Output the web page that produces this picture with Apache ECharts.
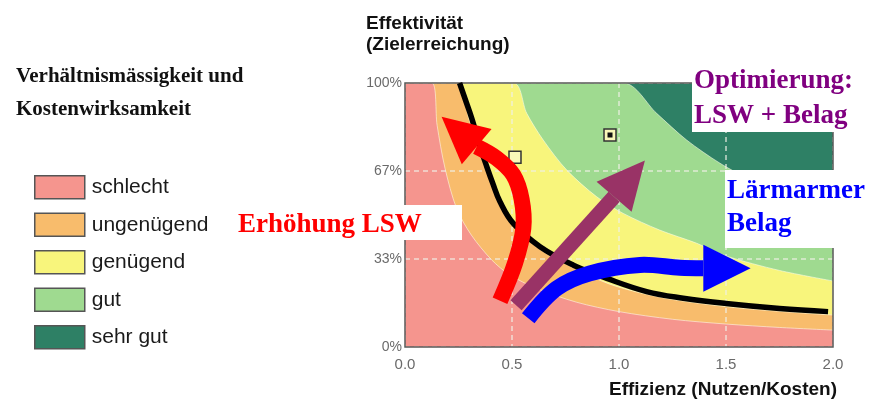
<!DOCTYPE html>
<html><head><meta charset="utf-8">
<script src="https://cdn.jsdelivr.net/npm/echarts@6/dist/echarts.min.js"></script>
<style>html,body{margin:0;padding:0;background:#fff}#c{width:870px;height:405px}</style>
</head><body><div id="c"></div>
<script>
// ---- data (x = Effizienz, y = Effektivität %) ----
const xTicks = [0, 0.5, 1.0, 1.5, 2.0];
const yTicks = ['0%', '33%', '67%', '100%'];
const bandNames = ['schlecht', 'ungenügend', 'genügend', 'gut', 'sehr gut'];
const bandColors = ['#F5958E', '#F8BC6C', '#F8F57C', '#9FDA90', '#2E8065'];
// upper boundaries of each band
const bSchlecht = [[0,100],[0.125,100],[0.15,84],[0.187,67.7],[0.241,52.5],[0.31,42.4],[0.405,33],[0.49,27.3],[0.615,22.2],[0.8,17],[1.0,13.4],[1.25,10.5],[1.5,8.7],[1.75,7.4],[2.0,6.4]];
const bUngenuegend = [[0,100],[0.24,100],[0.3,86],[0.36,72],[0.43,57],[0.5,47],[0.63,37],[0.8,29.5],[0.95,24],[1.1,20.5],[1.25,18],[1.5,15.3],[1.75,13.5],[2.0,12.1]];
const bGenuegend = [[0,100],[0.506,100],[0.569,88.5],[0.646,78.4],[0.756,67],[0.896,56.9],[1.02,50.6],[1.19,44.3],[1.363,39.3],[1.5,34.5],[1.75,29],[2.0,25]];
const bGut = [[0,100],[1.02,100],[1.176,88.5],[1.316,78.4],[1.472,69.6],[1.6,64],[1.8,57],[2.0,51]];
const bSehrGut = [[0,100],[2.0,100]];
const blackCurve = [[0.255,100],[0.285,93],[0.312,86.6],[0.358,74],[0.374,70.2],[0.41,62],[0.444,55],[0.506,46.8],[0.631,38],[0.787,31],[0.943,26],[1.129,21],[1.3,18.5],[1.5,16.5],[1.75,14.6],[1.977,13.4]];
const openSquare = [[0.514,71.9]];
const filledSquare = [[0.958,80.3]];
const redArrow = [[0.444,17.5],[0.514,31.7],[0.553,45],[0.545,56],[0.506,65.2],[0.428,71.5],[0.335,75.9]];
const redTip = [0.171,87.2];
const purpleArrow = [[0.519,15.8],[0.977,56.9]];
const purpleTip = [1.121,70.6];
const blueArrow = [[0.576,10.9],[0.709,22.2],[0.864,27.9],[1.098,31.1],[1.285,30],[1.394,29.8]];
const blueTip = [1.615,29.8];

const chart = echarts.init(document.getElementById('c'), null, {renderer:'canvas'});

function band(name, data, color, z){
  return {type:'line', name, data, z, symbol:'none', smooth:0.3, silent:true,
    color, itemStyle:{color},
    lineStyle:{width:1, color:'rgba(255,255,240,0.55)'},
    areaStyle:{color, opacity:1}};
}
function arrow(name, path, tip, color, width, half){
  return {type:'custom', name, z:14, silent:true, data:[path[0]],
    renderItem:function(params, api){
      const pts = path.map(p=>api.coord(p));
      const t = api.coord(tip);
      const b = pts[pts.length-1];
      const dx=t[0]-b[0], dy=t[1]-b[1], L=Math.hypot(dx,dy);
      const nx=-dy/L, ny=dx/L;
      return {type:'group', children:[
        {type:'polyline', shape:{points:pts, smooth:0.35}, style:{stroke:color, lineWidth:width, fill:'none', lineCap:'butt', lineJoin:'round'}},
        {type:'polygon', shape:{points:[t,[b[0]+nx*half,b[1]+ny*half],[b[0]-nx*half,b[1]-ny*half]]}, style:{fill:color}}
      ]};
    }};
}

const serif = '"Liberation Serif","Times New Roman",serif';
const sans = '"Liberation Sans",Arial,sans-serif';

chart.setOption({
  animation:false,
  title:[
    {text:'Verhältnismässigkeit und\nKostenwirksamkeit', left:11, top:55,
      textStyle:{fontFamily:serif, fontWeight:'bold', fontSize:21, lineHeight:33, color:'#111'}},
    {text:'Effektivität\n(Zielerreichung)', left:361, top:8,
      textStyle:{fontFamily:sans, fontWeight:'bold', fontSize:19, lineHeight:21, color:'#111'}},
    {text:'Effizienz (Nutzen/Kosten)', left:604, top:375,
      textStyle:{fontFamily:sans, fontWeight:'bold', fontSize:19, color:'#111'}}
  ],
  legend:{orient:'vertical', left:29, top:170, itemWidth:50, itemHeight:23, itemGap:13,
    icon:'rect', selectedMode:false,
    textStyle:{fontFamily:sans, fontSize:21, color:'#1a1a1a', lineHeight:23, padding:[0,0,0,2]},
    data: bandNames.map((n,i)=>({name:n, icon:'rect',
      itemStyle:{color:bandColors[i], borderColor:'#555', borderWidth:1.5}}))},
  grid:{left:405, right:37, top:83, bottom:58, show:true, z:11,
    backgroundColor:'transparent', borderColor:'#5a5a5a', borderWidth:1.5},
  xAxis:{type:'value', min:xTicks[0], max:xTicks[xTicks.length-1], interval:0.5, z:10,
    axisLine:{show:false}, axisTick:{show:false},
    axisLabel:{margin:10, color:'#6a6a6a', fontSize:15, fontFamily:sans,
      formatter:v=>v.toFixed(1)},
    splitLine:{show:true, lineStyle:{color:'rgba(240,240,230,0.8)', width:1.5, type:[5,4]}}},
  yAxis:{type:'value', min:0, max:100, interval:100/3, z:10,
    axisLine:{show:false}, axisTick:{show:false},
    axisLabel:{margin:3, color:'#6a6a6a', fontSize:14, fontFamily:sans,
      formatter:v=>yTicks[Math.round(v/(100/3))]},
    splitLine:{show:true, lineStyle:{color:'rgba(240,240,230,0.8)', width:1.5, type:[5,4]}}},
  series:[
    band('sehr gut', bSehrGut, bandColors[4], 2),
    band('gut', bGut, bandColors[3], 3),
    band('genügend', bGenuegend, bandColors[2], 4),
    band('ungenügend', bUngenuegend, bandColors[1], 5),
    band('schlecht', bSchlecht, bandColors[0], 6),
    {type:'line', name:'Kurve', data:blackCurve, z:12, symbol:'none', smooth:0.4, silent:true,
      lineStyle:{color:'#000', width:5.5}},
    {type:'scatter', name:'Punkte', data:openSquare.concat(filledSquare), z:13, symbol:'rect', symbolSize:12, silent:true,
      itemStyle:{color:'#F9F8B8', borderColor:'#333', borderWidth:1.5, opacity:1}},
    {type:'scatter', name:'Punkt', data:filledSquare, z:13, symbol:'rect', symbolSize:5, silent:true,
      itemStyle:{color:'#111', opacity:1}},
    arrow('LSW', redArrow, redTip, '#FF0000', 16, 23),
    arrow('Optimierung', purpleArrow, purpleTip, '#993366', 15, 23),
    arrow('Belag', blueArrow, blueTip, '#0000FF', 16, 23.5)
  ],
  graphic:[
    {type:'rect', z:100, shape:{x:692, y:56, width:178, height:76}, style:{fill:'#fff'}},
    {type:'text', z:101, x:694, y:64, style:{text:'Optimierung:\nLSW + Belag', font:'bold 27px '+serif, fill:'#800080', lineHeight:35}},
    {type:'rect', z:100, shape:{x:725, y:170, width:145, height:78}, style:{fill:'#fff'}},
    {type:'text', z:101, x:727, y:175, style:{text:'Lärmarmer\nBelag', font:'bold 27px '+serif, fill:'#0000FF', lineHeight:32.4}},
    {type:'rect', z:100, shape:{x:232, y:205, width:230, height:35}, style:{fill:'#fff'}},
    {type:'text', z:101, x:238, y:208, style:{text:'Erhöhung LSW', font:'bold 27px '+serif, fill:'#FF0000', lineHeight:35}},
    {type:'rect', z:102, shape:{x:232, y:240, width:172, height:12}, style:{fill:'#fff'}}
  ]
});
</script></body></html>
